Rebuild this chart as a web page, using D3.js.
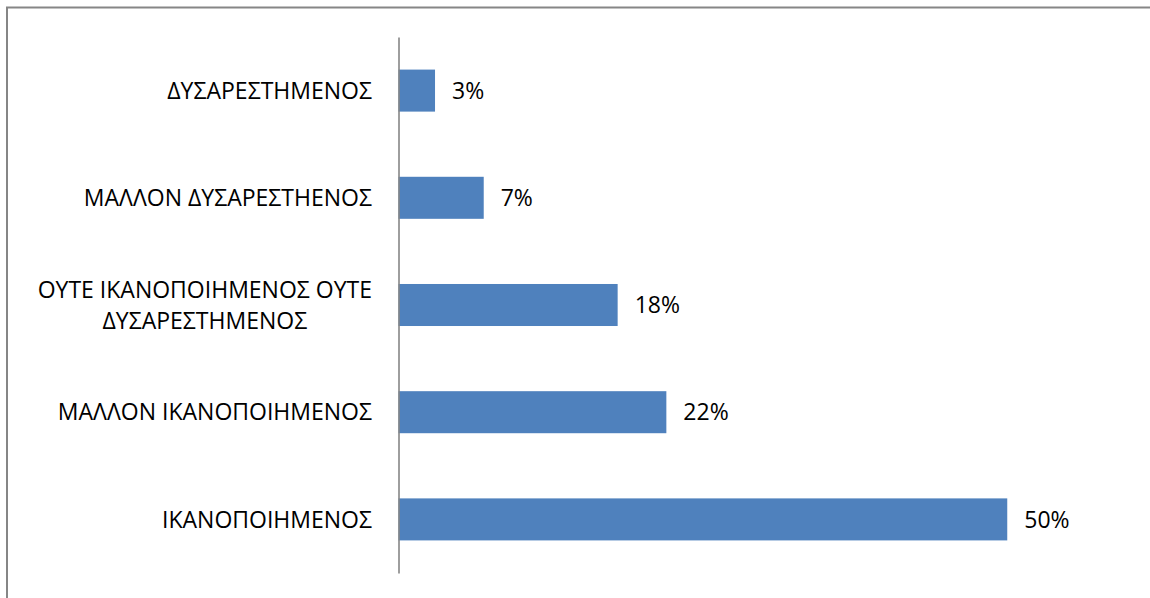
<!DOCTYPE html>
<html>
<head>
<meta charset="utf-8">
<script src="https://cdn.jsdelivr.net/npm/d3@7"></script>
<style>
  html, body { margin: 0; padding: 0; background: #fff; }
  svg { display: block; }
  text { font-family: "Open Sans", "Noto Sans", sans-serif; fill: #000; }
</style>
</head>
<body>
<svg id="chart" width="1150" height="598"></svg>
<script>
// Satisfaction responses, top to bottom
const categories = [
  ["ΔΥΣΑΡΕΣΤΗΜΕΝΟΣ"],
  ["ΜΑΛΛΟΝ ΔΥΣΑΡΕΣΤΗΕΝΟΣ"],
  ["ΟΥΤΕ ΙΚΑΝΟΠΟΙΗΜΕΝΟΣ ΟΥΤΕ", "ΔΥΣΑΡΕΣΤΗΜΕΝΟΣ"],
  ["ΜΑΛΛΟΝ ΙΚΑΝΟΠΟΙΗΜΕΝΟΣ"],
  ["ΙΚΑΝΟΠΟΙΗΜΕΝΟΣ"]
];
const values = [3, 7, 18, 22, 50];
const valueLabels = ["3%", "7%", "18%", "22%", "50%"];

const svg = d3.select("#chart");
const fontSize = 23;

// outer frame
svg.append("rect")
  .attr("x", 7).attr("y", 7.5)
  .attr("width", 1160).attr("height", 620)
  .attr("fill", "none")
  .attr("stroke", "#868686")
  .attr("stroke-width", 2);

const keys = categories.map((c, i) => i);

const y = d3.scaleBand()
  .domain(keys)
  .range([37, 573])
  .paddingInner(0.608)
  .paddingOuter(0.304);

const x = d3.scaleLinear()
  .domain([0, 60])
  .range([398.5, 1129]);

// bars
svg.append("g").selectAll("rect")
  .data(values)
  .join("rect")
  .attr("x", x(0))
  .attr("y", (d, i) => y(i))
  .attr("width", d => x(d) - x(0))
  .attr("height", y.bandwidth())
  .attr("fill", "#4F81BD");

// category axis
const axis = svg.append("g")
  .attr("transform", `translate(${x(0)},0)`)
  .call(d3.axisLeft(y).tickSize(0).tickFormat(""));
axis.select(".domain").attr("stroke", "#868686").attr("stroke-width", 1.6);

// category labels (multi-line blocks are right-aligned, lines centred)
const lineH = 31;
const labelG = svg.append("g");
categories.forEach((lines, i) => {
  const cy = y(i) + y.bandwidth() / 2;
  const g = labelG.append("g");
  const t = g.append("text")
    .attr("font-size", fontSize)
    .attr("text-anchor", "middle");
  lines.forEach((ln, j) => {
    t.append("tspan")
      .attr("x", 0)
      .attr("y", cy + (j - (lines.length - 1) / 2) * lineH)
      .attr("dy", "0.36em")
      .text(ln);
  });
  const w = t.node().getBBox().width;
  g.attr("transform", `translate(${372 - w / 2},0)`);
});

// value labels
svg.append("g").selectAll("text")
  .data(values)
  .join("text")
  .attr("x", d => x(d) + 17)
  .attr("y", (d, i) => y(i) + y.bandwidth() / 2)
  .attr("dy", "0.36em")
  .attr("font-size", fontSize)
  .text((d, i) => valueLabels[i]);
</script>
</body>
</html>
